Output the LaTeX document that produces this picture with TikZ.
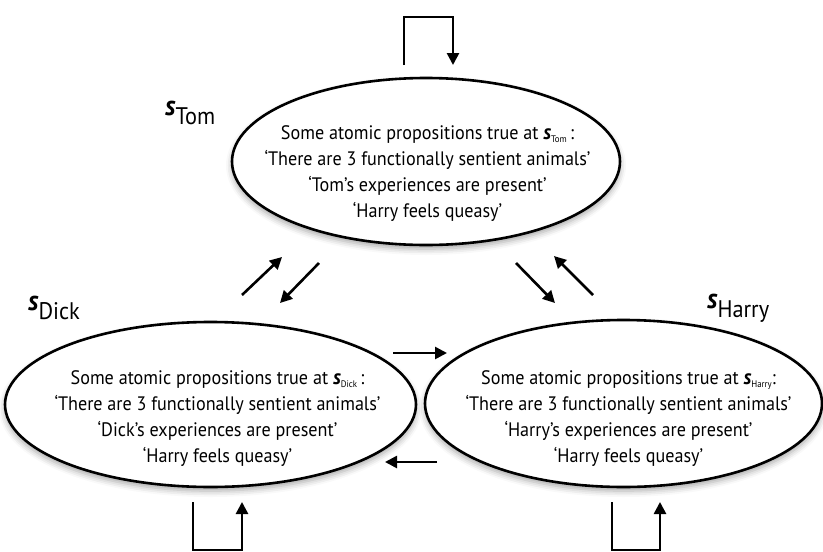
\documentclass[tikz,border=0pt]{standalone}
\usepackage{fontspec}
\setmainfont{PT Sans}[FakeStretch=0.93]
\usetikzlibrary{shapes.geometric,arrows.meta,shadows.blur}

\tikzset{
  world/.style={ellipse, draw, line width=2.6pt, fill=white, inner sep=0pt,
    blur shadow={shadow xshift=0pt, shadow yshift=-4pt, shadow blur radius=6pt, shadow opacity=35}},
  props/.style={align=center, font=\fontsize{19.5}{26}\selectfont, inner sep=0pt},
  worldlabel/.style={inner sep=0pt, anchor=base west},
  link/.style={line width=2.6pt, -{Triangle[length=12pt,width=12pt]}},
}
% world name with a large bold italic s and a lowered subscript
\newcommand{\worldname}[1]{{\fontsize{28}{28}\selectfont\bfseries\itshape s}{\fontsize{24}{24}\selectfont\raisebox{-9pt}{#1}}}
% smaller form used inside the proposition lists
\newcommand{\inlineworld}[1]{{\fontsize{21}{21}\selectfont\bfseries\itshape s}{\fontsize{9.5}{9.5}\selectfont\raisebox{-3pt}{#1}}}

\begin{document}
\begin{tikzpicture}[x=1pt,y=-1pt]
\useasboundingbox (0,0) rectangle (823,552);

% the three worlds
\node[world, minimum width=388pt, minimum height=167pt] (tom) at (426,161.5) {};
\node[world, minimum width=411pt, minimum height=165pt] (dick) at (210.5,404.5) {};
\node[world, minimum width=397pt, minimum height=167pt] (harry) at (623.5,403.5) {};

\node[props] (tomtext) at (427.5,174) {Some atomic propositions true at \inlineworld{Tom}\,:\\
‘There are 3 functionally sentient animals’\\
‘Tom’s experiences are present’\\
‘Harry feels queasy’};
\node[props] (dicktext) at (217.5,419) {Some atomic propositions true at \inlineworld{Dick}\,:\\
‘There are 3 functionally sentient animals’\\
‘Dick’s experiences are present’\\
‘Harry feels queasy’};
\node[props] (harrytext) at (628.5,419) {Some atomic propositions true at \inlineworld{Harry}:\\
‘There are 3 functionally sentient animals’\\
‘Harry’s experiences are present’\\
‘Harry feels queasy’};

% world names
\node[worldlabel] (tomname) at (165,115) {\worldname{Tom}};
\node[worldlabel] (dickname) at (28,310) {\worldname{Dick}};
\node[worldlabel] (harryname) at (707,308) {\worldname{Harry}};

% accessibility arrows between worlds
\coordinate (td1) at (242,295); \coordinate (td2) at (282,257);
\coordinate (td3) at (319,263); \coordinate (td4) at (280,303);
\coordinate (th1) at (516,263); \coordinate (th2) at (555,303);
\coordinate (th3) at (593,295); \coordinate (th4) at (554,256);
\coordinate (dh1) at (393,353); \coordinate (dh2) at (447,353);
\coordinate (hd1) at (437,462); \coordinate (hd2) at (385,462);
\draw[link] (td1) -- (td2);
\draw[link] (td3) -- (td4);
\draw[link] (th1) -- (th2);
\draw[link] (th3) -- (th4);
\draw[link] (dh1) -- (dh2);
\draw[link] (hd1) -- (hd2);

% reflexive loops
\coordinate (tl1) at (404,65); \coordinate (tl2) at (453,65);
\coordinate (dl1) at (193,502); \coordinate (dl2) at (242,502);
\coordinate (hl1) at (612,502); \coordinate (hl2) at (660,502);
\draw[link] (tl1) -- ++(0,-48) -| (tl2);
\draw[link] (dl1) -- ++(0,48) -| (dl2);
\draw[link] (hl1) -- ++(0,48) -| (hl2);
\end{tikzpicture}
\end{document}
